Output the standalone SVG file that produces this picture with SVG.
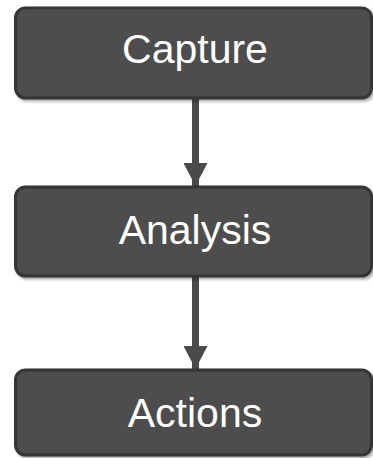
<svg xmlns="http://www.w3.org/2000/svg" width="373" height="458" viewBox="0 0 373 458">
<defs>
<filter id="sh" x="-5%" y="-10%" width="115%" height="130%">
<feGaussianBlur in="SourceAlpha" stdDeviation="1.5"/>
<feOffset dx="1.5" dy="1.5" result="b"/>
<feComponentTransfer><feFuncA type="linear" slope="0.35"/></feComponentTransfer>
<feMerge><feMergeNode/><feMergeNode in="SourceGraphic"/></feMerge>
</filter>
<marker id="ah" markerUnits="userSpaceOnUse" markerWidth="24" markerHeight="24" refX="23" refY="12" orient="auto">
<path d="M0,0 L23,12 L0,24 Z" fill="#4a4a4a"/>
</marker>
</defs>
<style>
.box{fill:#4d4d4d;stroke:#353535;stroke-width:3;filter:url(#sh)}
.lbl{fill:#ffffff;font-family:"Liberation Sans",Arial,sans-serif;font-size:41px;text-anchor:middle}
.con{stroke:#4a4a4a;stroke-width:7;fill:none}
</style>
<g id="connectors">
<line class="con" x1="195.5" y1="99" x2="195.5" y2="186" marker-end="url(#ah)"/>
<line class="con" x1="195.5" y1="277" x2="195.5" y2="369" marker-end="url(#ah)"/>
</g>
<g id="capture">
<rect class="box" x="15.5" y="8" width="356" height="90" rx="10"/>
<text class="lbl" x="195" y="62.5">Capture</text>
</g>
<g id="analysis">
<rect class="box" x="15.5" y="187" width="356" height="89" rx="10"/>
<text class="lbl" x="195" y="243.5">Analysis</text>
</g>
<g id="actions">
<rect class="box" x="15.5" y="370" width="356" height="85" rx="10"/>
<text class="lbl" x="195" y="426.5">Actions</text>
</g>
</svg>
